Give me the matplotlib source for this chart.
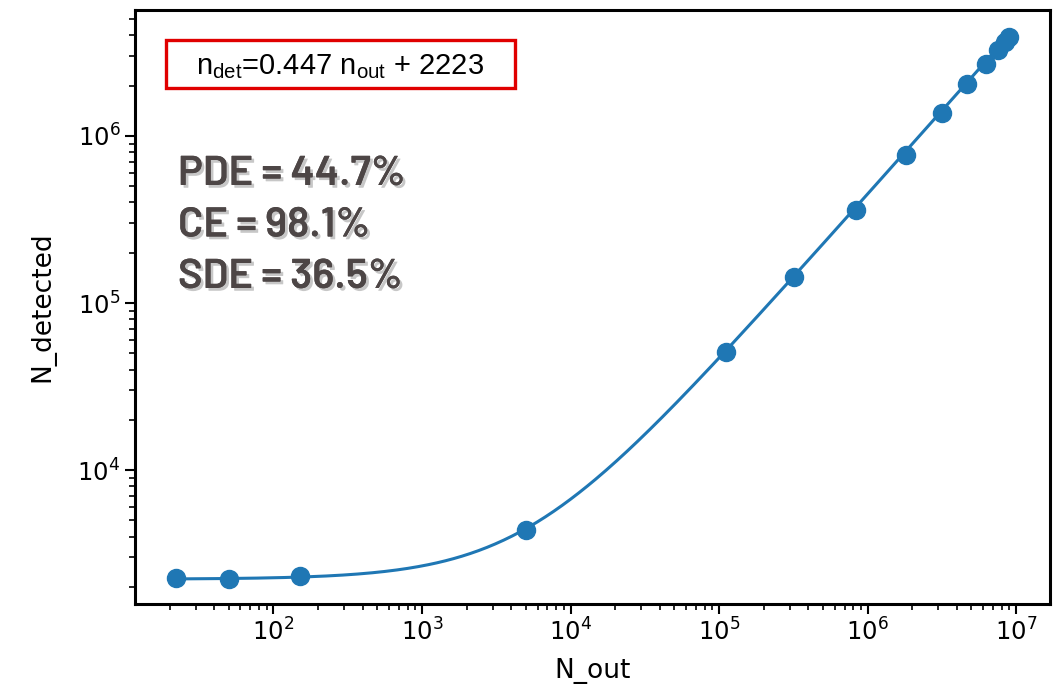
import matplotlib
matplotlib.use("Agg")
import matplotlib.pyplot as plt
import matplotlib.patheffects as pe
from matplotlib.patches import Rectangle
import numpy as np

# Measured photon counts
n_out = [22, 50, 150, 5000, 1.11e5, 3.21e5, 8.3e5, 1.81e6, 3.16e6,
         4.67e6, 6.27e6, 7.55e6, 8.43e6, 8.97e6]
n_detected = [2250, 2235, 2330, 4400, 51000, 143000, 360000, 770000, 1.37e6,
              2.05e6, 2.70e6, 3.27e6, 3.66e6, 3.92e6]

# Linear fit parameters
slope = 0.447
offset = 2223

efficiency_lines = ["PDE = 44.7%", "CE = 98.1%", "SDE = 36.5%"]

fig = plt.figure(figsize=(10.53, 6.87), dpi=100)
ax = fig.add_axes([135 / 1053, 1 - 604 / 687, 915 / 1053, 594 / 687])

x_fit = np.geomspace(min(n_out), max(n_out), 400)
ax.plot(x_fit, slope * x_fit + offset, color="#1f77b4", lw=2.2, zorder=2)
ax.plot(n_out, n_detected, "o", color="#1f77b4", ms=13, zorder=3)

ax.set_xscale("log")
ax.set_yscale("log")
ax.set_xlim(11.7, 1.69e7)
ax.set_ylim(1580, 5.67e6)

for s in ax.spines.values():
    s.set_linewidth(2.2)
ax.tick_params(which="major", length=7, width=1.5, labelsize=17.5, direction="out")
ax.tick_params(which="minor", length=4, width=1.2, direction="out")

ax.set_xlabel("N_out", fontsize=19, labelpad=9)
ax.set_ylabel("N_detected", fontsize=19, labelpad=16)

# Fit equation in a red frame
ax.add_patch(Rectangle((0.034, 0.869), 0.381, 0.080, transform=ax.transAxes,
                       fill=False, edgecolor="#e00000", lw=2.4, zorder=5))
ax.text(0.2245, 0.905,
        r"n$_{\mathregular{det}}$=0.447 n$_{\mathregular{out}}$ + 2223",
        transform=ax.transAxes, ha="center", va="center",
        fontsize=21, family="Liberation Sans", zorder=6)

shadow = [pe.withSimplePatchShadow(offset=(2, -2), shadow_rgbFace="#9a9a9a", alpha=0.55),
          pe.Normal()]
for i, line in enumerate(efficiency_lines):
    y_px = 185 + i * 51.5
    ax.text(178 / 1053, 1 - y_px / 687, line, transform=fig.transFigure,
            ha="left", va="baseline", fontsize=30, fontweight=600,
            family="Barlow", color="#4d4646", path_effects=shadow)

fig.savefig("out.png", dpi=100)
